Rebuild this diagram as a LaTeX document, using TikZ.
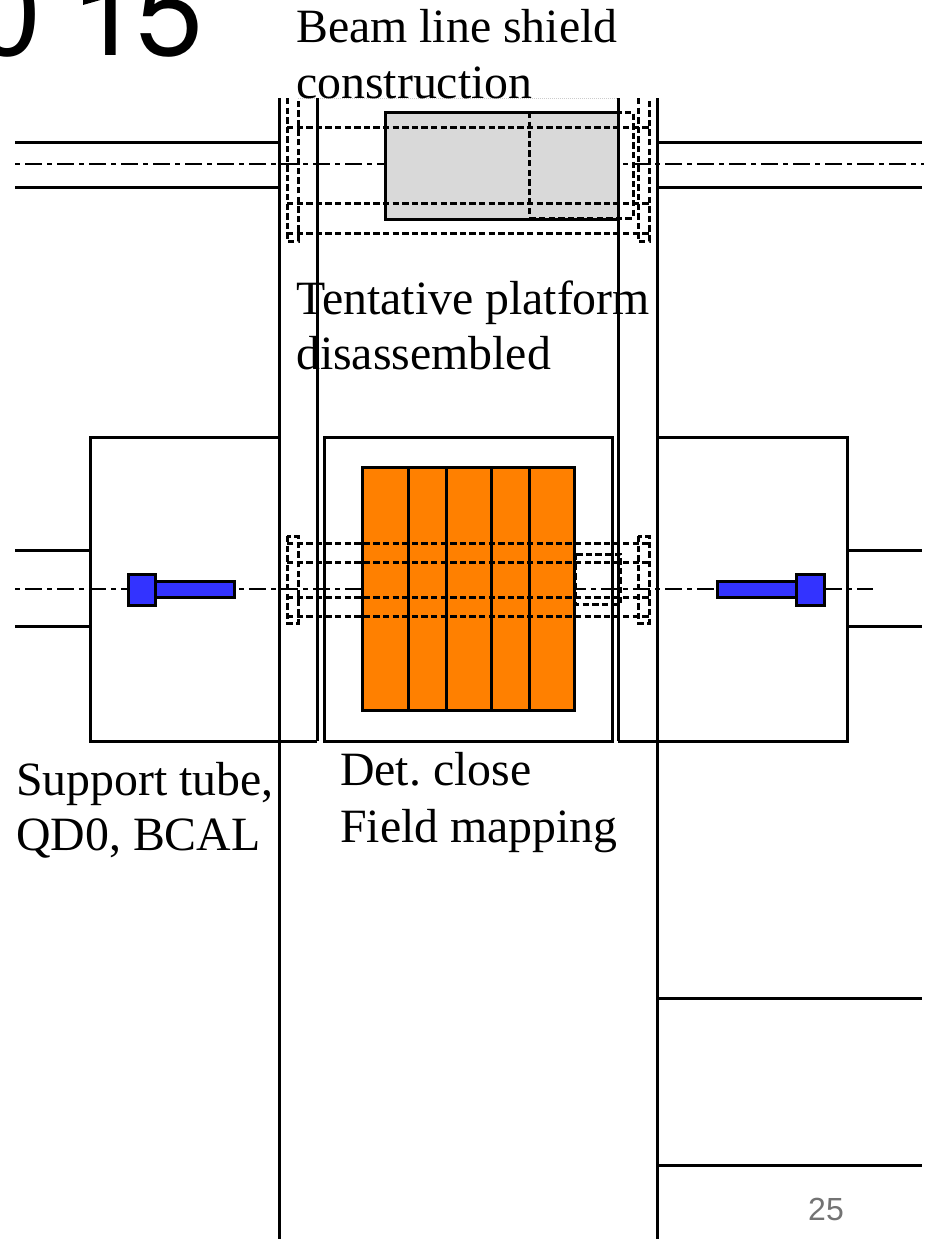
\documentclass[tikz,border=0pt]{standalone}
\usepackage{fontspec}
\setmainfont{Liberation Serif}
\newfontfamily\arial{Liberation Sans}
\newfontfamily\helv{TeX Gyre Heros}
\frenchspacing
\tikzset{
  solidln/.style={draw=black,line width=3pt},
  dashln/.style={draw=black,line width=3pt,dash pattern=on 6.4pt off 3.2pt},
  axisln/.style={draw=black,line width=1.5pt,dash pattern=on 5pt off 5pt on 17pt off 5pt},
  lab/.style={anchor=base west,inner sep=0pt,font=\fontsize{47.8}{55}\selectfont},
  blue box/.style={draw=black,line width=3pt,fill=bluefill},
}
\definecolor{bluefill}{HTML}{3333FF}
\definecolor{orangefill}{HTML}{FF8000}
\definecolor{greyfill}{HTML}{D9D9D9}
\begin{document}
\begin{tikzpicture}[x=1pt,y=-1pt]
\useasboundingbox (0,0) rectangle (924,1239);
\clip (0,0) rectangle (924,1239);
% title fragment
\node[anchor=base east,inner sep=0pt,font=\helv\fontsize{120}{130}\selectfont] (title) at (203,56) {0 1\kern-5pt 5};
\fill[black] (83,-1) -- (83,5) -- (104,-1) -- cycle;
% axes
\draw[axisln] (15,164) -- (924,164);
\draw[axisln] (15,589) -- (873,589);
\draw[draw=black!20,line width=1pt,densely dotted] (298,98) -- (618,98);
% grey shield
\draw[solidln,fill=greyfill] (385,112) rectangle (618,219);
% beam pipes
\foreach \y in {142,187}{
  \draw[solidln] (15,\y) -- (279,\y);
  \draw[solidln] (657,\y) -- (922,\y);
}
\foreach \y in {550,626}{
  \draw[solidln] (15,\y) -- (90,\y);
  \draw[solidln] (847,\y) -- (922,\y);
}
% boxes
\draw[solidln] (279,437) -- (90,437) -- (90,741) -- (317,741);
\draw[solidln] (657,437) -- (847,437) -- (847,741) -- (618,741);
\draw[solidln] (324,437) rectangle (612,741);
% detector
\draw[solidln,fill=orangefill] (362,467) rectangle (574,710);
\foreach \x in {408,446,491,529}{\draw[solidln] (\x,467) -- (\x,710);}
% vertical walls
\draw[solidln] (279,98) -- (279,1239);
\draw[solidln] (317,98) -- (317,741);
\draw[solidln] (618,98) -- (618,741);
\draw[solidln] (657,98) -- (657,1239);
% lower right lines
\draw[solidln] (657,998) -- (922,998);
\draw[solidln] (657,1165) -- (922,1165);
% dashed top
\draw[dashln] (529,112) -- (529,219);
\draw[dashln] (529,112) -- (633,112) -- (633,218) -- (529,218);
\draw[dashln] (287,127) -- (649,127);
\draw[dashln] (287,203) -- (649,203);
\draw[dashln] (287,233) -- (649,233);
\draw[dashln] (287,98) -- (287,241) -- (298,241) -- (298,98);
\draw[dashln] (638,98) -- (638,241) -- (649,241) -- (649,98);
% dashed lower
\foreach \y in {543,562,597,616}{\draw[dashln] (287,\y) -- (649,\y);}
\draw[dashln] (287,536) rectangle (298,623);
\draw[dashln] (638,536) rectangle (649,623);
\draw[dashln] (575,554) rectangle (620,604);
% blue parts
\draw[blue box] (155,581) rectangle (234,597);
\draw[blue box] (128,574) rectangle (155,605);
\draw[blue box] (717,581) rectangle (796,597);
\draw[blue box] (796,574) rectangle (824,605);
% labels
\node[lab] (beam1) at (296,43) {Beam line shield};
\node[lab] (beam2) at (296,98) {construction};
\node[lab] (tent1) at (296,314) {Tentative platform};
\node[lab] (tent2) at (296,369) {disassembled};
\node[lab] (supp1) at (16,795) {Support tube,};
\node[lab] (supp2) at (16,850) {QD0, BCAL};
\node[lab] (det1) at (340,785) {Det. close};
\node[lab] (det2) at (340,842) {Field mapping};
\node[anchor=base,inner sep=0pt,text=black!55,font=\arial\fontsize{32}{38}\selectfont] (page) at (826,1220) {25};
\end{tikzpicture}
\end{document}
